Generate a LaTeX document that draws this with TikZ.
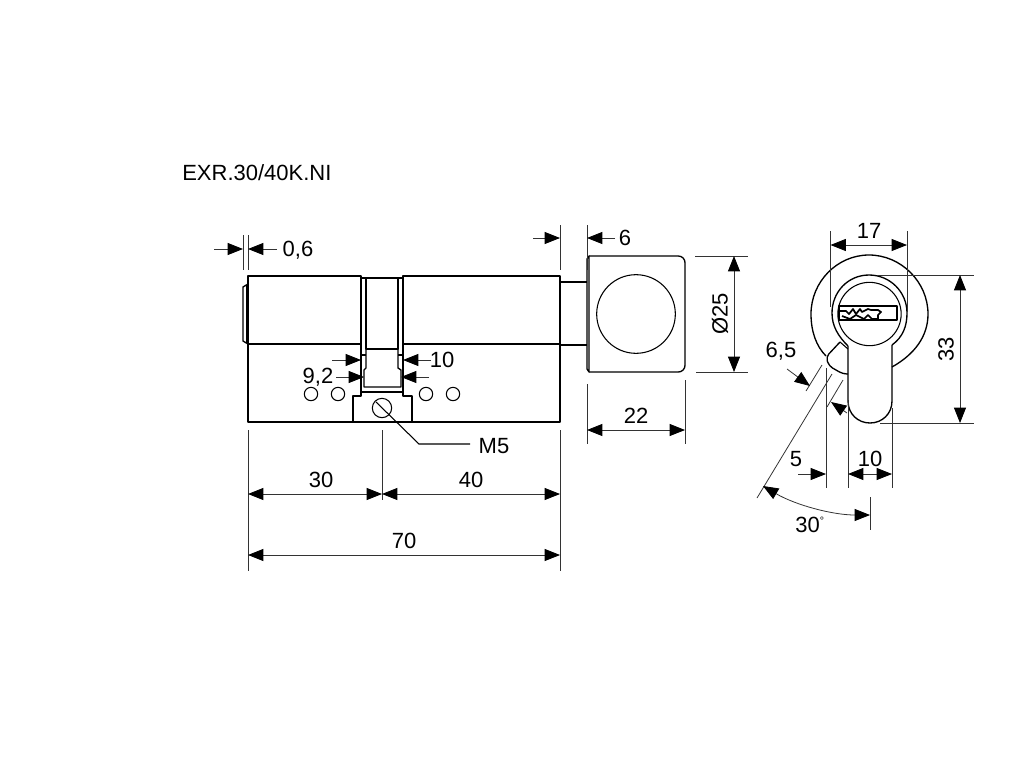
\documentclass[tikz,border=0pt]{standalone}
\usepackage{fontspec}
\setmainfont{Liberation Sans}
\usetikzlibrary{arrows.meta}

\tikzset{
  part/.style={line width=1pt, line join=round},
  thin part/.style={line width=.8pt},
  dimtip/.tip={Triangle[length=11.5pt,width=9pt,fill=black,color=black]},
  dimline/.style={line width=.6pt, black!80},
  dimarrow/.style={dimline, -dimtip},
  dimboth/.style={dimline, dimtip-dimtip},
  every node/.style={font=\fontsize{16.5}{18}\selectfont, inner sep=0pt}
}

\begin{document}
\begin{tikzpicture}[x=.75pt, y=-.75pt]
    \useasboundingbox (0,0) rectangle (1024,768);

    \node[anchor=west, font=\fontsize{16.5}{18}\selectfont] (title) at (182,173) {EXR.30/40K.NI};

    % cylinder body
    \draw[part] (248,344) -- (248,276) -- (361,276) -- (361,396) -- (353,396) -- (353,422)
        -- (248,422) -- cycle;
    \draw[part] (403,276) -- (560,276) -- (560,422) -- (412,422) -- (412,396) -- (403,396) -- cycle;
    \draw[part] (353,422) -- (412,422);
    \draw[part] (248,344) -- (361,344) (403,344) -- (560,344);
    \draw[part] (361,392) -- (403,392);
    \draw[part] (361,278) -- (403,278);
    \draw[part] (361,355) -- (366,355) (366,278) -- (366,349) -- (398,349) -- (398,278);
    \draw[part] (398,355) -- (403,355);
    \draw[part] (366,349) -- (366,368) -- (364,370) -- (364,387) -- (401,387) -- (401,370) -- (398,368) -- (398,349);

    % tailpiece on the left
    \draw[part] (248,284) -- (243,287) -- (243,341) -- (248,344);
    \draw[thin part] (246.5,285) -- (246.5,343);

    \foreach \holex/\holename in {311/holea, 338/holeb, 426/holec, 453/holed}
        \node[draw, circle, minimum size=10pt, line width=.8pt] (\holename) at (\holex,394) {};

    % screw
    \node[draw, circle, minimum size=14.5pt, line width=.8pt] (screw) at (382,408) {};
    \coordinate (mbend) at (419,444);
    \coordinate (mend) at (470,444);
    \draw[thin part] (376,402) -- (mbend) -- (mend);
    \node (m5) at (494,446) {M5};

    % shaft and knob
    \draw[part] (560,282) -- (587,282) (560,345) -- (587,345);
    \draw[part, rounded corners=5pt] (589,256) -- (685,256) -- (685,372) -- (589,372);
    \draw[part] (589,256) -- (587,259) -- (587,369) -- (589,372) -- cycle;
    \node[draw, circle, minimum size=59pt, line width=.8pt] (knob) at (636,314) {};

    % front view
    \coordinate (front) at (869,314);
    \draw[part] (892,367) .. controls (915,354) and (928,336) .. (928,314)
        .. controls (928,282) and (901,255) .. (869,255)
        .. controls (837,255) and (811,282) .. (811,314)
        .. controls (811,331) and (816,346) .. (826,356);
    \draw[part] (848,346) -- (848,401) .. controls (848,414) and (858,423) .. (870,423)
        .. controls (882,423) and (892,414) .. (892,401) -- (892,345);
    \draw[part] (892,345) .. controls (903,337) and (907,326) .. (907,313)
        .. controls (907,292) and (890,275) .. (869,275)
        .. controls (848,275) and (832,292) .. (832,313)
        .. controls (832,326) and (838,336) .. (848,346);
    \node[draw, circle, minimum size=47.5pt, line width=.8pt] (plug) at (869.5,314) {};
    % keyway
    \draw[part, fill=white] (839,306) rectangle (897,320);
    \draw[line width=1.3pt, line join=round] (840,311) -- (846,311) -- (849,314) -- (853,309) -- (856,314)
        -- (860,309) -- (862,312) -- (868,309) -- (871,310) -- (878,310) -- (881,312) -- (878,315) -- (878,320);
    \draw[line width=1.3pt, line join=round] (842,316) -- (850,319) -- (856,315) -- (864,319) -- (868,315)
        -- (872,319) -- (878,319);
    % cam
    \draw[part, rounded corners=3pt] (840,342) -- (826,357) -- (829,366) -- (843,374) -- (848,374);
    \draw[thin part] (840,342) -- (848,349);

    % dimensions
    \coordinate (lefta) at (243,235);  \coordinate (leftb) at (243,270);
    \coordinate (bodya) at (248,235);  \coordinate (bodyb) at (248,270);
    \draw[dimline] (lefta) -- (leftb) (bodya) -- (bodyb);
    \draw[dimarrow] (214,249) -- (243,249);
    \draw[dimarrow] (277,249) -- (248,249);
    \node (dimzero) at (298,250) {0,6};

    \coordinate (enda) at (560,225);   \coordinate (endb) at (560,270);
    \coordinate (knoba) at (587,225);  \coordinate (knobb) at (587,270);
    \draw[dimline] (enda) -- (endb) (knoba) -- (knobb);
    \draw[dimarrow] (533,238) -- (560,238);
    \draw[dimarrow] (615,238) -- (587,238);
    \node (dimsix) at (625,238) {6};

    \draw[dimarrow] (332,360) -- (361,360);
    \draw[dimarrow] (431,360) -- (403,360);
    \node (dimten) at (442,360) {10};
    \draw[dimarrow] (336,377) -- (364,377);
    \draw[dimarrow] (429,377) -- (401,377);
    \node (dimnine) at (318,377) {9,2};

    \coordinate (basea) at (248,430);  \coordinate (baseb) at (248,571);
    \coordinate (basec) at (382,430);  \coordinate (based) at (382,500);
    \coordinate (basee) at (560,430);  \coordinate (basef) at (560,571);
    \draw[dimline] (basea) -- (baseb) (basec) -- (based) (basee) -- (basef);
    \draw[dimboth] (248,494) -- (382,494);
    \draw[dimboth] (382,494) -- (560,494);
    \draw[dimboth] (248,555) -- (560,555);
    \node (dimthirty) at (321,480) {30};
    \node (dimforty) at (471,480) {40};
    \node (dimseventy) at (404,541) {70};

    \draw[dimline] (695,256) -- (748,256) (696,372) -- (748,372);
    \draw[dimboth] (734,256) -- (734,372);
    \node[rotate=90] (dimdia) at (720,314) {Ø25};

    \draw[dimline] (587,384) -- (587,444) (685,380) -- (685,444);
    \draw[dimboth] (587,430) -- (685,430);
    \node (dimknob) at (636,416) {22};

    \draw[dimline] (830.5,231) -- (830.5,307) (907,231) -- (907,312);
    \draw[dimboth] (830.5,245) -- (907,245);
    \node (dimwide) at (869,231) {17};

    \draw[dimline] (878,275) -- (974,275) (880,423) -- (974,423);
    \draw[dimboth] (960,275) -- (960,423);
    \node[rotate=90] (dimhigh) at (946,349) {33};

    \draw[dimline] (826,368) -- (826,488) (848,400) -- (848,488) (892,408) -- (892,488);
    \draw[dimboth] (848,474) -- (892,474);
    \draw[dimarrow] (798,474) -- (826,474);
    \node (dimfive) at (796,459) {5};
    \node (dimpipe) at (870,459) {10};

    \draw[dimline] (822,365) -- (806,391) (843,380) -- (827,407);
    \draw[dimarrow] (787,369) -- (810,386);
    \draw[dimarrow] (847,413) -- (831,402);
    \node (dimcam) at (781,351) {6,5};

    \draw[dimline] (832,374) -- (757,498);
    \draw[dimline] (870,497) -- (870,530);
    \draw[dimboth] (763,486) .. controls (795.4,505) and (832.4,515) .. (870,515);
    \node (dimangle) at (810,525) {30\textsuperscript{\fontsize{8}{8}\selectfont °}};
\end{tikzpicture}
\end{document}
